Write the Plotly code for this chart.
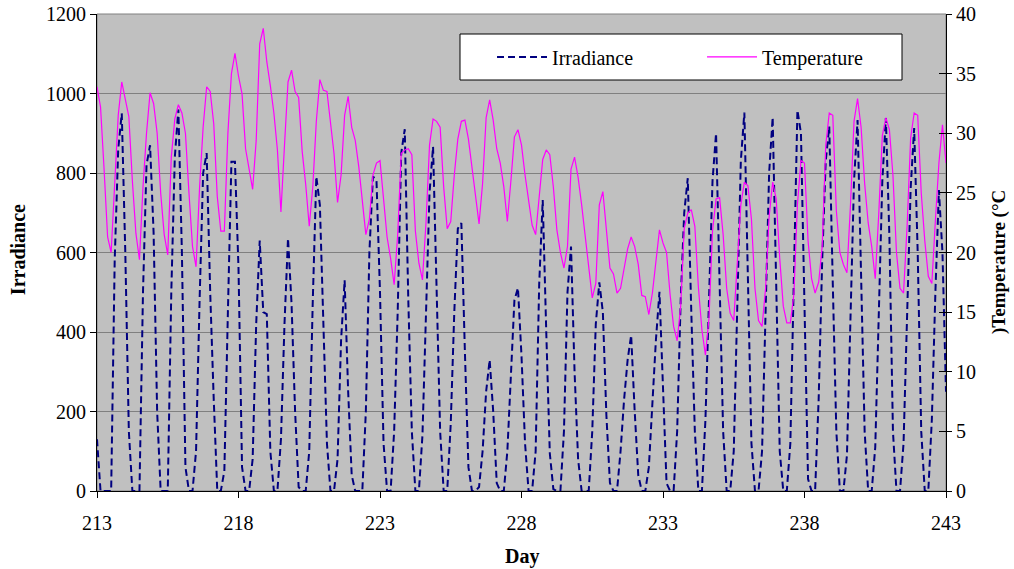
import plotly.graph_objects as go

# ---- data ----
DAYS = list(range(213, 243))            # day numbers (each with 8 three-hourly samples)
SAMPLE_HOURS = [0, 3, 6, 9, 12, 15, 18, 21]
END_DAY = 243

# Irradiance (W/m2), 8 samples per day, then final point at day 243.0
irradiance = [
    130, 0, 0, 0, 0, 580, 860, 950,      # 213
    600, 150, 0, 0, 0, 500, 820, 870,    # 214
    650, 200, 0, 0, 0, 500, 840, 960,    # 215
    600, 60, 0, 0, 100, 480, 800, 850,   # 216
    500, 230, 0, 0, 50, 450, 828, 828,   # 217
    560, 60, 0, 0, 80, 420, 630, 450,    # 218
    445, 100, 0, 0, 130, 420, 636, 470,  # 219
    200, 10, 0, 0, 100, 480, 791, 720,   # 220
    430, 120, 0, 0, 80, 380, 530, 250,   # 221
    40, 0, 0, 0, 200, 600, 791, 783,     # 222
    500, 120, 0, 0, 150, 450, 850, 910,  # 223
    480, 150, 0, 0, 140, 430, 750, 866,  # 224
    520, 150, 0, 0, 170, 450, 660, 674,  # 225
    350, 60, 0, 0, 10, 100, 250, 330,    # 226
    200, 20, 0, 0, 100, 280, 480, 511,   # 227
    340, 120, 0, 0, 100, 520, 732, 400,  # 228
    95, 5, 0, 0, 150, 500, 615, 300,     # 229
    80, 0, 0, 0, 150, 420, 525, 450,     # 230
    190, 20, 0, 0, 100, 230, 330, 392,   # 231
    200, 40, 0, 0, 60, 230, 380, 501,    # 232
    250, 20, 0, 0, 150, 480, 700, 787,   # 233
    450, 150, 0, 0, 180, 480, 780, 900,  # 234
    500, 150, 0, 0, 100, 470, 830, 952,  # 235
    520, 120, 0, 0, 100, 470, 800, 940,  # 236
    560, 100, 0, 0, 120, 500, 958, 900,  # 237
    480, 30, 0, 0, 230, 580, 830, 917,   # 238
    520, 150, 0, 0, 90, 430, 780, 933,   # 239
    550, 150, 0, 0, 110, 440, 780, 938,  # 240
    640, 150, 0, 0, 120, 440, 760, 913,  # 241
    600, 150, 0, 0, 180, 500, 757, 600,  # 242
    250,                                 # 243.0
]

# Temperature (deg C), 8 samples per day, then final point at day 243.0
temperature = [
    33.9, 32.2, 27.0, 21.3, 20.0, 26.0, 31.5, 34.3,   # 213
    32.8, 31.4, 26.0, 21.6, 19.4, 25.5, 30.0, 33.4,   # 214
    32.5, 30.0, 25.0, 21.5, 19.8, 28.0, 31.2, 32.4,   # 215
    31.7, 30.0, 25.0, 20.5, 18.8, 25.5, 30.5, 33.9,   # 216
    33.5, 30.8, 24.7, 21.8, 21.8, 30.0, 35.0, 36.7,   # 217
    34.8, 33.3, 28.7, 26.8, 25.3, 29.4, 37.5, 38.8,   # 218
    36.0, 34.0, 31.7, 28.6, 23.4, 29.0, 34.3, 35.3,   # 219
    33.5, 33.0, 28.5, 25.7, 22.2, 25.5, 31.0, 34.5,   # 220
    33.6, 33.5, 31.0, 28.3, 24.2, 26.5, 31.5, 33.1,   # 221
    30.5, 29.4, 27.2, 24.3, 21.5, 22.8, 26.5, 27.5,   # 222
    27.7, 24.5, 21.3, 19.5, 17.3, 21.5, 28.3, 28.6,   # 223
    28.7, 28.2, 21.8, 19.1, 17.7, 22.5, 29.0, 31.2,   # 224
    31.0, 30.5, 25.5, 22.0, 22.6, 26.5, 29.5, 31.0,   # 225
    31.1, 29.5, 27.0, 24.5, 22.4, 25.8, 31.3, 32.8,   # 226
    31.1, 28.7, 27.5, 25.5, 22.6, 26.0, 29.7, 30.3,   # 227
    29.0, 26.5, 24.5, 22.3, 21.5, 25.0, 27.8, 28.6,   # 228
    28.2, 25.5, 21.9, 20.0, 18.7, 20.5, 27.0, 28.0,   # 229
    26.3, 24.0, 21.3, 19.1, 16.2, 17.4, 24.0, 25.1,   # 230
    22.2, 18.7, 18.2, 16.6, 17.0, 18.5, 20.3, 21.3,   # 231
    20.5, 19.0, 16.4, 16.3, 14.8, 16.6, 19.5, 21.9,   # 232
    20.8, 20.0, 16.5, 13.8, 12.6, 15.5, 22.0, 23.3,   # 233
    23.6, 22.2, 17.1, 13.5, 11.4, 14.5, 21.8, 24.5,   # 234
    24.6, 21.5, 17.0, 14.9, 14.3, 19.0, 24.0, 25.9,   # 235
    25.6, 22.8, 17.0, 14.3, 13.8, 17.0, 23.0, 25.9,   # 236
    24.5, 19.5, 15.5, 14.1, 14.1, 16.5, 24.0, 27.7,   # 237
    27.5, 21.0, 17.8, 16.6, 17.5, 20.5, 29.0, 31.7,   # 238
    31.5, 23.5, 20.0, 19.0, 18.3, 24.0, 31.0, 32.9,   # 239
    30.5, 25.8, 22.5, 20.5, 17.8, 23.3, 29.8, 31.3,   # 240
    30.3, 26.5, 20.0, 17.0, 16.6, 22.2, 29.6, 31.7,   # 241
    31.5, 25.0, 21.0, 18.0, 17.4, 22.7, 27.5, 30.7,   # 242
    27.5,                                             # 243.0
]

X_TICKS = [213, 218, 223, 228, 233, 238, 243]
Y_TICKS = [0, 200, 400, 600, 800, 1000, 1200]
Y2_TICKS = [0, 5, 10, 15, 20, 25, 30, 35, 40]

# time axis built from day numbers and sample hours
time = [d + h / 24 for d in DAYS for h in SAMPLE_HOURS] + [END_DAY]

FONT = "Liberation Serif, Times New Roman, serif"
FS = 20

fig = go.Figure()
fig.add_trace(go.Scatter(
    x=time, y=irradiance, name="Irradiance", mode="lines",
    line=dict(color="#000080", width=2, dash="7px,4px"),
    yaxis="y",
))
fig.add_trace(go.Scatter(
    x=time, y=temperature, name="Temperature", mode="lines",
    line=dict(color="#FF00FF", width=1.2),
    yaxis="y2",
))
# dummy trace to activate yaxis3 (inside tick marks on right axis)
fig.add_trace(go.Scatter(x=[None], y=[None], yaxis="y3", showlegend=False, hoverinfo="skip"))

fig.update_layout(
    width=1014, height=569,
    margin=dict(l=97, r=68, t=14, b=78, autoexpand=False),
    paper_bgcolor="white",
    plot_bgcolor="#C0C0C0",
    font=dict(family=FONT, size=FS, color="black"),
    showlegend=True,
    legend=dict(
        orientation="h", x=0.4276 + 32 / 849, y=0.910, xanchor="left", yanchor="middle",
        bgcolor="rgba(0,0,0,0)", borderwidth=0,
        font=dict(family=FONT, size=FS, color="black"),
        itemwidth=50, entrywidth=145,
    ),
    xaxis=dict(
        range=[213, 243], tickvals=X_TICKS, ticktext=[str(v) for v in X_TICKS],
        showgrid=False, zeroline=False, automargin=False,
        showline=True, linecolor="black", linewidth=1,
        ticks="outside", ticklen=6, tickcolor="black",
        ticklabelstandoff=8, tickfont=dict(size=FS),
    ),
    yaxis=dict(
        range=[0, 1200], tickvals=Y_TICKS, automargin=False,
        showgrid=True, gridcolor="#808080", gridwidth=1, zeroline=False,
        showline=True, linecolor="black", linewidth=1,
        ticks="outside", ticklen=6, tickcolor="black", tickfont=dict(size=FS),
    ),
    yaxis2=dict(
        range=[0, 40], tickvals=Y2_TICKS, overlaying="y", side="right", automargin=False,
        showgrid=False, zeroline=False,
        showline=True, linecolor="black", linewidth=1,
        ticks="outside", ticklen=5, tickcolor="black", tickfont=dict(size=FS),
    ),
    yaxis3=dict(
        range=[0, 40], tickvals=Y2_TICKS, overlaying="y", side="right", automargin=False,
        showgrid=False, zeroline=False, showticklabels=False,
        showline=False, ticks="inside", ticklen=7, tickcolor="black",
    ),
    shapes=[
        dict(type="rect", xref="paper", yref="paper", x0=0, x1=1, y0=0, y1=1,
             line=dict(color="#808080", width=1), fillcolor="rgba(0,0,0,0)", layer="below"),
        dict(type="rect", xref="paper", yref="paper",
             x0=(460 - 97) / 849, x1=(902 - 97) / 849,
             y0=(491 - 80) / 477, y1=(491 - 34) / 477,
             line=dict(color="black", width=1), fillcolor="white", layer="above"),
    ],
    annotations=[
        dict(text="<b>Irradiance</b>", xref="paper", yref="paper", x=-0.093, y=0.505,
             xanchor="center", yanchor="middle",
             textangle=-90, showarrow=False, font=dict(family=FONT, size=FS)),
        dict(text="<b>)Temperature (°C</b>", xref="paper", yref="paper", x=(999 - 97) / 849, y=0.48,
             xanchor="center", yanchor="middle",
             textangle=-90, showarrow=False, font=dict(family=FONT, size=19)),
        dict(text="<b>Day</b>", xref="paper", yref="paper", x=0.5, y=-0.138,
             xanchor="center", yanchor="middle",
             showarrow=False, font=dict(family=FONT, size=FS)),
    ],
)

fig.write_html("out.html")
